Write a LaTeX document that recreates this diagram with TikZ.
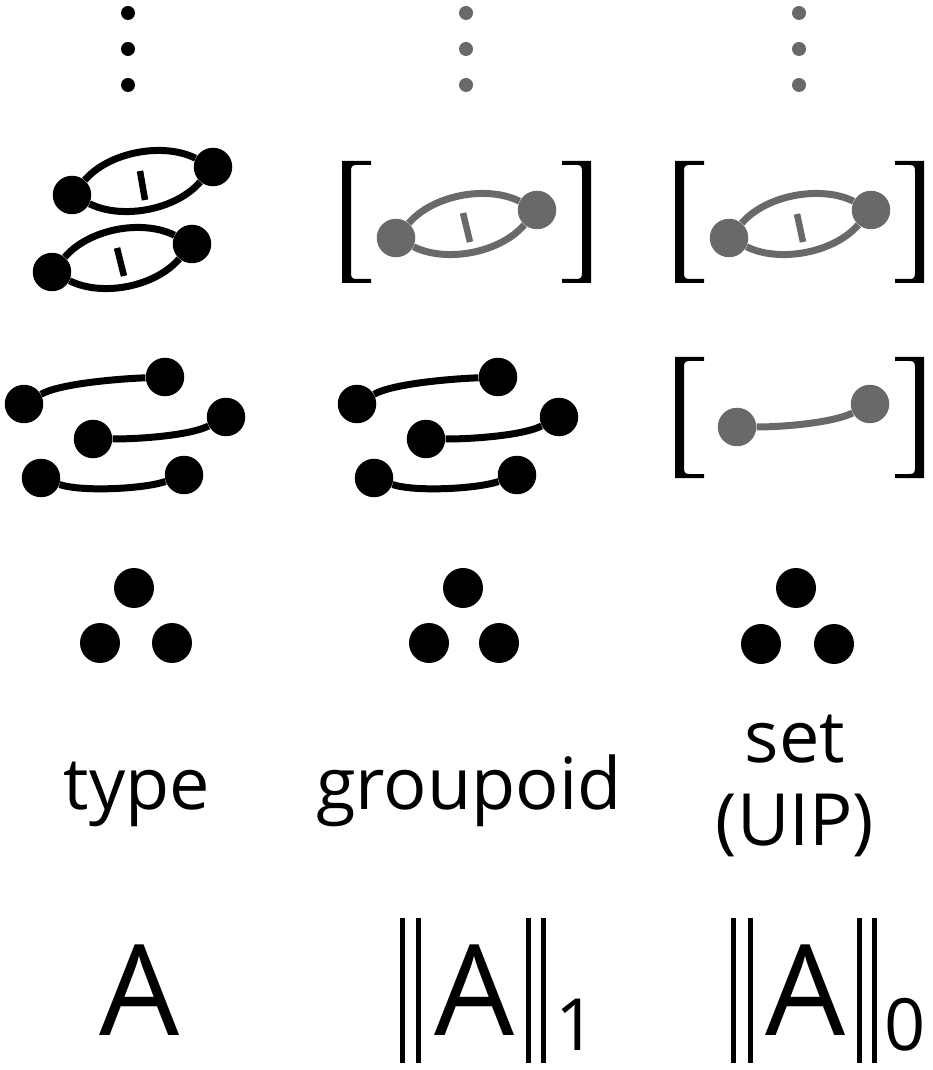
\documentclass[tikz,border=0pt]{standalone}
\usepackage{fontspec}
\setmainfont{Open Sans}
\definecolor{grey}{RGB}{105,105,105}

% скобка: внешний край x, верх, низ, направление (1 левая, -1 правая)
\newcommand{\brk}[4]{%
  \fill (#1,#2) -- ({#1+#4*29},#2) -- ({#1+#4*29},{#2+4}) -- ({#1+#4*14},{#2+4})
    .. controls ({#1+#4*10},{#2+4}) and ({#1+#4*9},{#2+6}) .. ({#1+#4*9},{#2+10})
    -- ({#1+#4*9},{#3-10})
    .. controls ({#1+#4*9},{#3-6}) and ({#1+#4*10},{#3-4}) .. ({#1+#4*14},{#3-4})
    -- ({#1+#4*29},{#3-4}) -- ({#1+#4*29},#3) -- (#1,#3) -- cycle;}

\begin{document}
\begin{tikzpicture}[x=0.02cm,y=-0.02cm,
  dot/.style={circle,fill=black,inner sep=0pt,minimum size=0.77cm},
  gdot/.style={dot,fill=grey},
  bigdot/.style={dot,minimum size=0.8cm},
  vdot/.style={circle,inner sep=0pt,minimum size=0.28cm},
  link/.style={line width=0.14cm},
  hatch/.style={line width=0.13cm},
  bar/.style={line width=0.1cm},
  lbl/.style={inner sep=0pt,anchor=base,font=\fontsize{41}{49}\selectfont},
  big/.style={inner sep=0pt,anchor=base,font=\fontsize{72}{80}\selectfont},
  sub/.style={inner sep=0pt,anchor=base,font=\fontsize{41}{48}\selectfont}]
\useasboundingbox (0,0) rectangle (932,1070);

%Многоточия
\foreach \x/\c in {128/black,466/grey,799/grey}
  \foreach \y in {13,49,85}
    \node[vdot,fill=\c] (v\x-\y) at (\x,\y) {};

%Двумерные клетки, тип
\node[dot] (u1) at (72,195) {};
\node[dot] (u2) at (213,167) {};
\draw[link] (u1) .. controls +(37,-43) and +(-50,-25) .. (u2);
\draw[link] (u1) .. controls +(50,25) and +(-37,43) .. (u2);
\draw[hatch] (140,171) -- (145,200);
\node[dot] (w1) at (52,272) {};
\node[dot] (w2) at (192,244) {};
\draw[link] (w1) .. controls +(37,-43) and +(-50,-25) .. (w2);
\draw[link] (w1) .. controls +(50,25) and +(-37,43) .. (w2);
\draw[hatch] (117,248) -- (124,276);

%Двумерные клетки, группоид и множество
\begin{scope}[grey]
\node[gdot] (g1) at (396,238) {};
\node[gdot] (g2) at (537,210) {};
\draw[link] (g1) .. controls +(37,-43) and +(-50,-25) .. (g2);
\draw[link] (g1) .. controls +(50,25) and +(-37,43) .. (g2);
\draw[hatch] (463,213) -- (470,242);
\node[gdot] (s1) at (729,238) {};
\node[gdot] (s2) at (871,210) {};
\draw[link] (s1) .. controls +(37,-43) and +(-50,-25) .. (s2);
\draw[link] (s1) .. controls +(50,25) and +(-37,43) .. (s2);
\draw[hatch] (797,214) -- (803,242);
\end{scope}
\brk{342}{161}{283}{1} \brk{591}{161}{283}{-1}
\brk{675}{161}{283}{1} \brk{924}{161}{283}{-1}

%Пути
\foreach \s/\dx in {t/0,g/333}{
\begin{scope}[shift={(\dx,0)}]
\node[dot] (\s a1) at (24,404) {};
\node[dot] (\s a2) at (165,377) {};
\node[dot] (\s b1) at (93,439) {};
\node[dot] (\s b2) at (226,417) {};
\node[dot] (\s c1) at (41,478) {};
\node[dot] (\s c2) at (184,475) {};
\draw[link] (\s a1) .. controls +(35,-20) and +(-50,2) .. (\s a2);
\draw[link] (\s b1) .. controls +(50,0) and +(-35,18) .. (\s b2);
\draw[link] (\s c1) .. controls +(40,14) and +(-40,14) .. (\s c2);
\end{scope}}
\node[gdot] (p1) at (737,427) {};
\node[gdot] (p2) at (870,404) {};
\draw[link,grey] (p1) .. controls +(50,0) and +(-35,18) .. (p2);
\brk{675}{357}{478}{1} \brk{924}{357}{478}{-1}

%Точки
\foreach \s/\x/\y in {t1/134/588,t2/100/643,t3/172/643,
  g1/463/588,g2/429/643,g3/499/643,
  s1/796/588,s2/761/644,s3/834/644}
  \node[bigdot] (o\s) at (\x,\y) {};

%Подписи
\node[lbl] (type) at (137,809) {type};
\node[lbl] (grpd) at (469,809) {groupoid};
\node[lbl] (set) at (795,762) {set};
\node[lbl] (uip) at (795,845) {(UIP)};

%Обозначения
\node[big] (A) at (140,1035) {A};
\node[big] (A1) at (475,1035) {A};
\node[sub] (n1) at (576,1050) {1};
\node[big] (A0) at (806,1035) {A};
\node[sub] (n0) at (905,1050) {0};
\foreach \x in {402,418,528,543,733,750,859,874}
  \draw[bar] (\x,918) -- (\x,1063);

\end{tikzpicture}
\end{document}
